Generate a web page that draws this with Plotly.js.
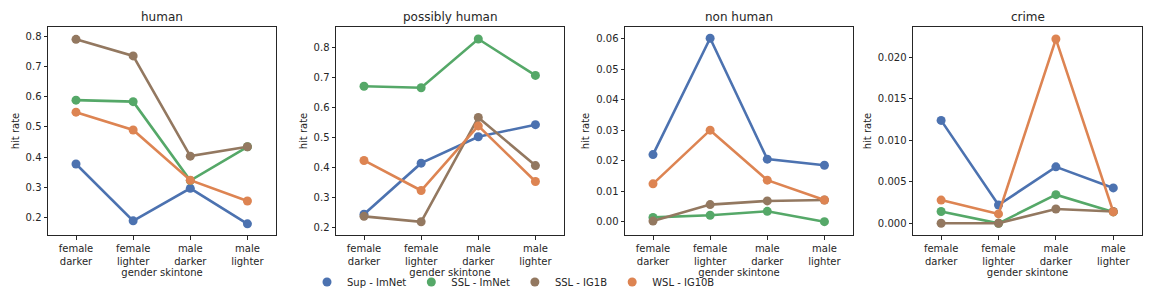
<!DOCTYPE html>
<html>
<head>
<meta charset="utf-8">
<script src="https://cdn.plot.ly/plotly-3.0.1.min.js"></script>
<style>html,body{margin:0;padding:0;background:#fff;}#chart{width:1152px;height:288px;}</style>
</head>
<body>
<div id="chart"></div>
<script>
const categories = ['female darker', 'female lighter', 'male darker', 'male lighter'];
const tickLabels = ['female<br>darker', 'female<br>lighter', 'male<br>darker', 'male<br>lighter'];
const seriesNames = ['Sup - ImNet', 'SSL - ImNet', 'SSL - IG1B', 'WSL - IG10B'];
const colors = ['#4c72b0', '#55a868', '#937860', '#dd8452'];
const panelTitles = ['human', 'possibly human', 'non human', 'crime'];

// hit rate values per panel, per series (order of seriesNames)
const human = [
  [0.377, 0.188, 0.296, 0.178],
  [0.589, 0.584, 0.322, 0.434],
  [0.791, 0.736, 0.403, 0.434],
  [0.549, 0.490, 0.323, 0.254]
];
const possiblyHuman = [
  [0.245, 0.415, 0.503, 0.543],
  [0.671, 0.666, 0.828, 0.707],
  [0.238, 0.220, 0.567, 0.407],
  [0.424, 0.324, 0.539, 0.354]
];
const nonHuman = [
  [0.0220, 0.0601, 0.0205, 0.0185],
  [0.0014, 0.0021, 0.0034, 0.0000],
  [0.0002, 0.0056, 0.0068, 0.0071],
  [0.0124, 0.0300, 0.0136, 0.0071]
];
const crime = [
  [0.0124, 0.0022, 0.0068, 0.00426],
  [0.00142, 0.0000, 0.00345, 0.00137],
  [0.0000, 0.0000, 0.00172, 0.00142],
  [0.00280, 0.00113, 0.0222, 0.00137]
];
const panels = [human, possiblyHuman, nonHuman, crime];

const yRanges = [[0.141, 0.832], [0.176, 0.868], [-0.00436, 0.0638], [-0.00141, 0.02365]];
const yDticks = [0.1, 0.1, 0.01, 0.005];
const yFormats = ['.1f', '.1f', '.2f', '.3f'];
const xDomains = [[48, 276], [336, 564], [625, 853], [913, 1142]];
const W = 1152, H = 288;
const yDomain = [1 - 235 / H, 1 - 27 / H];

const font = {family: 'DejaVu Sans, sans-serif', size: 10, color: '#262626'};
const traces = [];
const layout = {
  width: W, height: H,
  margin: {l: 0, r: 0, t: 0, b: 0, autoexpand: false},
  paper_bgcolor: '#fff', plot_bgcolor: '#fff',
  font: font,
  showlegend: true,
  legend: {
    orientation: 'h', x: 307 / W, xanchor: 'left', y: 1 - 282 / H, yanchor: 'middle',
    font: {family: 'DejaVu Sans, sans-serif', size: 10, color: '#262626'},
    bgcolor: 'rgba(0,0,0,0)'
  },
  annotations: []
};

panels.forEach((data, p) => {
  const sfx = p === 0 ? '' : String(p + 1);
  data.forEach((vals, s) => {
    traces.push({
      type: 'scatter', mode: 'lines+markers',
      x: categories, y: vals,
      xaxis: 'x' + sfx, yaxis: 'y' + sfx,
      line: {color: colors[s], width: 2.6},
      marker: {color: colors[s], size: 9},
      name: seriesNames[s], showlegend: false, hoverinfo: 'skip'
    });
  });
  const axCommon = {
    showline: true, mirror: true, linecolor: '#262626', linewidth: 1,
    ticks: 'outside', ticklen: 3.5, tickcolor: '#262626', tickwidth: 1,
    showgrid: false, zeroline: false, tickfont: font
  };
  layout['xaxis' + sfx] = Object.assign({}, axCommon, {
    domain: [xDomains[p][0] / W, xDomains[p][1] / W],
    anchor: 'y' + sfx,
    type: 'category', categoryarray: categories, categoryorder: 'array',
    tickvals: categories, ticktext: tickLabels,
    range: [-0.49, 3.5],
    title: {text: 'gender skintone', font: font, standoff: 1}
  });
  layout['yaxis' + sfx] = Object.assign({}, axCommon, {
    domain: yDomain, anchor: 'x' + sfx,
    range: yRanges[p], dtick: yDticks[p], tick0: 0, tickformat: yFormats[p],
    title: {text: 'hit rate', font: font, standoff: 4}
  });
  layout.annotations.push({
    text: panelTitles[p], xref: 'paper', yref: 'paper',
    x: (xDomains[p][0] + xDomains[p][1]) / 2 / W, y: 1 - 17 / H,
    xanchor: 'center', yanchor: 'middle', showarrow: false,
    font: {family: 'DejaVu Sans, sans-serif', size: 12, color: '#262626'}
  });
});

// legend entries (marker only)
seriesNames.forEach((n, s) => {
  traces.push({
    type: 'scatter', mode: 'markers', x: [null], y: [null],
    marker: {color: colors[s], size: 9}, name: n, showlegend: true, hoverinfo: 'skip'
  });
});

Plotly.newPlot('chart', traces, layout, {displayModeBar: false, staticPlot: true});
</script>
</body>
</html>
